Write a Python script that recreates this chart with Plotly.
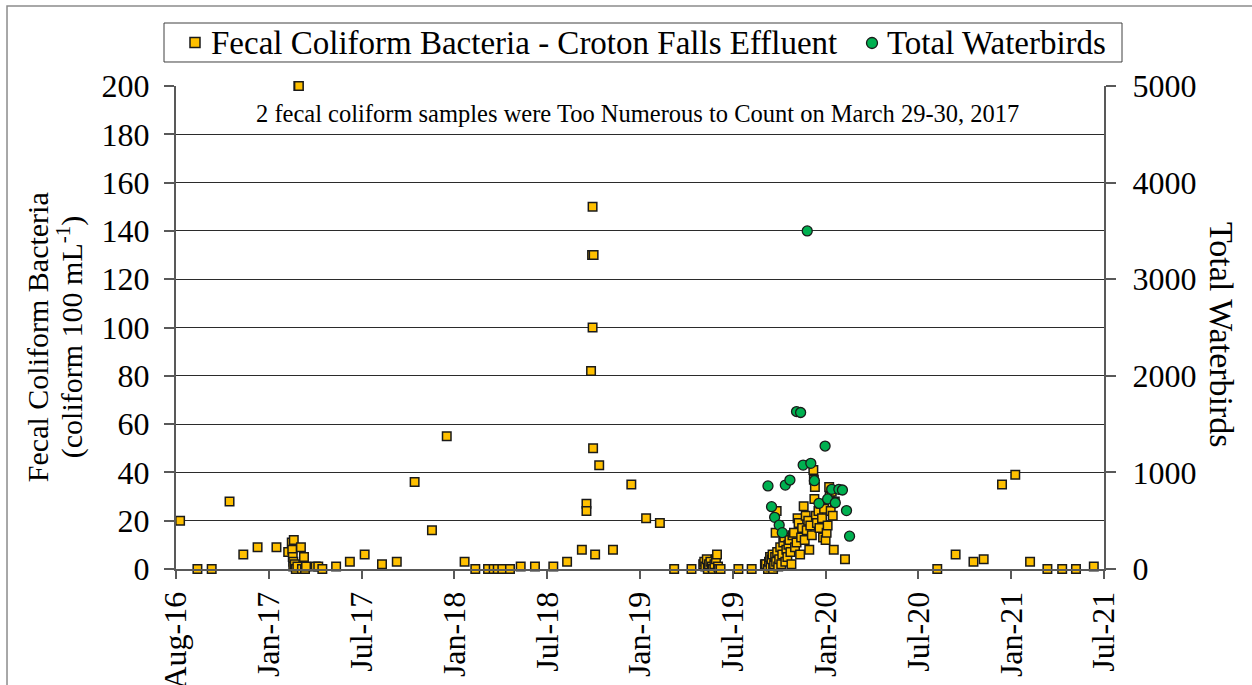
import plotly.graph_objects as go

# Fecal coliform samples, Croton Falls effluent (coliform per 100 mL)
fecal_dates = [
    "2016-08-09", "2016-09-12", "2016-10-10", "2016-11-14", "2016-12-11",
    "2017-01-08", "2017-02-14", "2017-03-09", "2017-03-16", "2017-03-17",
    "2017-03-18", "2017-03-19", "2017-03-19", "2017-03-20", "2017-03-22",
    "2017-03-24", "2017-03-27", "2017-03-29", "2017-03-30", "2017-04-03",
    "2017-04-05", "2017-04-09", "2017-04-11", "2017-04-13",
    "2017-05-02", "2017-05-07", "2017-05-15", "2017-06-11", "2017-07-08",
    "2017-08-06", "2017-09-09", "2017-10-08", "2017-11-12", "2017-12-16",
    "2018-01-14", "2018-02-18", "2018-03-11", "2018-04-05", "2018-04-16",
    "2018-04-24", "2018-05-03", "2018-05-18", "2018-06-08", "2018-07-06",
    "2018-08-11", "2018-09-07", "2018-10-06", "2018-10-15", "2018-10-15",
    "2018-10-24", "2018-10-27", "2018-10-27", "2018-10-26", "2018-10-29",
    "2018-10-28", "2018-11-01", "2018-11-09", "2018-12-06",
    "2019-01-11", "2019-02-09", "2019-03-08", "2019-04-05", "2019-05-09",
    "2019-06-01", "2019-06-03", "2019-06-05", "2019-06-08", "2019-06-10",
    "2019-06-12", "2019-06-15", "2019-06-18", "2019-06-20", "2019-06-23",
    "2019-06-26", "2019-06-28", "2019-06-30", "2019-07-02", "2019-07-05",
    "2019-08-09", "2019-09-04", "2019-09-30",
    "2019-10-02", "2019-10-06", "2019-10-08", "2019-10-10", "2019-10-11",
    "2019-10-13", "2019-10-15", "2019-10-16", "2019-10-18", "2019-10-20",
    "2019-10-21", "2019-10-22", "2019-10-23", "2019-10-24", "2019-10-26",
    "2019-10-28", "2019-10-30", "2019-11-01", "2019-11-03", "2019-11-05",
    "2019-11-07", "2019-11-09", "2019-11-11", "2019-11-13", "2019-11-15",
    "2019-11-17", "2019-11-19", "2019-11-21", "2019-11-23", "2019-11-26",
    "2019-11-28", "2019-12-01", "2019-12-03", "2019-12-05", "2019-12-08",
    "2019-12-10", "2019-12-12", "2019-12-15", "2019-12-17", "2019-12-19",
    "2019-12-21", "2019-12-24", "2019-12-26", "2019-12-28", "2019-12-31",
    "2020-01-03", "2020-01-04", "2020-01-05", "2020-01-06", "2020-01-08",
    "2020-01-10", "2020-01-13", "2020-01-15", "2020-01-17", "2020-01-20",
    "2020-01-22", "2020-01-24", "2020-01-27", "2020-01-29", "2020-01-31",
    "2020-02-03", "2020-02-04", "2020-02-06", "2020-02-08", "2020-02-10",
    "2020-02-12", "2020-02-14", "2020-03-05",
    "2020-09-02", "2020-10-08", "2020-11-12", "2020-12-02", "2021-01-07",
    "2021-02-02", "2021-03-03", "2021-04-06", "2021-05-05", "2021-06-01",
    "2021-07-06",
]
fecal_values = [
    20, 0, 0, 28, 6,
    9, 9, 7, 11, 8,
    5, 3, 1, 12, 2,
    0, 1, 200, 200, 9,
    0, 5, 0, 1,
    1, 1, 0, 1, 3,
    6, 2, 3, 36, 16,
    55, 3, 0, 0, 0,
    0, 0, 0, 1, 1,
    1, 3, 8, 27, 24,
    82, 150, 100, 130, 130,
    50, 6, 43, 8,
    35, 21, 19, 0, 0,
    2, 3, 1, 4, 0,
    2, 3, 1, 0, 2,
    4, 6, 1, 0, 0,
    0, 0, 2,
    2, 0, 3, 5, 1,
    4, 6, 0, 2, 5,
    15, 3, 24, 7, 1,
    4, 9, 2, 6, 11,
    13, 3, 8, 5, 10,
    12, 7, 2, 14, 15,
    9, 11, 21, 19, 6,
    13, 17, 26, 12, 22,
    16, 20, 8, 18, 14,
    41, 37, 29, 34, 22,
    19, 24, 17, 27, 21,
    13, 25, 12, 15, 18,
    34, 30, 24, 32, 22,
    8, 28, 4,
    0, 6, 3, 4, 35,
    39, 3, 0, 0, 0,
    1,
]

# Total waterbird counts
bird_dates = [
    "2019-10-06", "2019-10-13", "2019-10-19", "2019-10-28", "2019-11-03",
    "2019-11-09", "2019-11-18", "2019-12-01", "2019-12-09", "2019-12-14",
    "2019-12-22", "2019-12-29", "2020-01-05", "2020-01-14", "2020-01-26",
    "2020-01-31", "2020-02-08", "2020-02-15", "2020-02-22", "2020-02-29",
    "2020-03-08", "2020-03-14",
]
bird_counts = [
    860, 645, 535, 455, 376,
    869, 921, 1630, 1620, 1076,
    3500, 1094, 914, 680, 1273,
    725, 825, 686, 825, 818,
    605, 340,
]

# Date axis: ticks every 182 days from Aug 2016
x_range = ["2016-08-01", "2021-07-26"]
x_ticks = [
    "2016-08-01", "2017-01-30", "2017-07-31", "2018-01-29", "2018-07-30",
    "2019-01-28", "2019-07-29", "2020-01-27", "2020-07-27", "2021-01-25",
    "2021-07-26",
]

FECAL_NAME = "Fecal Coliform Bacteria - Croton Falls Effluent"
BIRD_NAME = "Total Waterbirds"

SERIF = "Liberation Serif, Times New Roman, serif"
AXIS_GREY = "#595959"
GOLD = "#FFC000"
GREEN = "#00B050"
EDGE = "#1a1a1a"

fig = go.Figure()
fig.add_trace(go.Scatter(
    x=fecal_dates, y=fecal_values, mode="markers", name=FECAL_NAME,
    marker=dict(symbol="square", size=8.5, color=GOLD,
                line=dict(color=EDGE, width=1.5)),
    cliponaxis=False,
))
fig.add_trace(go.Scatter(
    x=bird_dates, y=bird_counts, mode="markers", yaxis="y2", name=BIRD_NAME,
    marker=dict(symbol="circle", size=10, color=GREEN,
                line=dict(color=EDGE, width=1.3)),
    cliponaxis=False,
))

tick_font = dict(family=SERIF, size=32, color="black")
legend_font = dict(family=SERIF, size=33, color="black")

# Legend box drawn as layout shapes + annotations (paper coordinates)
legend_shapes = [
    dict(type="rect", xref="paper", yref="paper",
         x0=-0.01293, x1=1.01940, y0=1.04969, y1=1.13043,
         line=dict(color="#404040", width=1), fillcolor="white", layer="above"),
    dict(type="rect", xref="paper", yref="paper",
         x0=0.01509, x1=0.02586, y0=1.07971, y1=1.10041,
         line=dict(color=EDGE, width=1.5), fillcolor=GOLD, layer="above"),
    dict(type="circle", xref="paper", yref="paper",
         x0=0.74407, x1=0.75593, y0=1.07764, y1=1.10041,
         line=dict(color=EDGE, width=1.3), fillcolor=GREEN, layer="above"),
]

fig.update_layout(
    width=1252, height=685,
    margin=dict(l=176, r=148, t=86, b=116),
    paper_bgcolor="white", plot_bgcolor="white",
    font=dict(family=SERIF, size=32, color="black"),
    showlegend=False,
    xaxis=dict(
        type="date", range=x_range, tickvals=x_ticks, tickformat="%b-%y",
        tickangle=-90, ticks="outside", ticklen=8, tickwidth=1.5,
        tickcolor=AXIS_GREY, showline=True, linecolor=AXIS_GREY,
        linewidth=2, showgrid=False, zeroline=False, automargin=False,
        tickfont=tick_font,
    ),
    yaxis=dict(
        range=[0, 200], tick0=0, dtick=20, ticks="outside", ticklen=10,
        tickwidth=1.5, tickcolor=AXIS_GREY, showline=True,
        linecolor=AXIS_GREY, linewidth=2, showgrid=True,
        gridcolor="#2b2b2b", gridwidth=1, zeroline=False, automargin=False,
        ticklabelstandoff=8, tickfont=tick_font,
    ),
    yaxis2=dict(
        range=[0, 5000], tick0=0, dtick=1000, overlaying="y", side="right",
        ticks="outside", ticklen=10, tickwidth=1.5, tickcolor=AXIS_GREY,
        showline=True, linecolor=AXIS_GREY, linewidth=2, showgrid=False,
        zeroline=False, automargin=False, ticklabelstandoff=10,
        tickfont=tick_font,
    ),
    shapes=[
        dict(type="rect", xref="paper", yref="paper",
             x0=-0.1821, x1=1.3, y0=-0.5, y1=1.1656,
             line=dict(color="#8c8c8c", width=1.5), layer="below"),
    ] + legend_shapes,
    annotations=[
        dict(text=FECAL_NAME, xref="paper", yref="paper",
             x=0.0355, y=1.0890, xanchor="left", yanchor="middle",
             showarrow=False, font=legend_font),
        dict(text=BIRD_NAME, xref="paper", yref="paper",
             x=0.7640, y=1.0890, xanchor="left", yanchor="middle",
             showarrow=False, font=legend_font),
        dict(text="2 fecal coliform samples were Too Numerous to Count on March 29-30, 2017",
             xref="paper", yref="paper", x=0.4968, y=0.944,
             xanchor="center", yanchor="middle", showarrow=False,
             font=dict(family=SERIF, size=24.5, color="black")),
        dict(text="Fecal Coliform Bacteria", xref="paper", yref="paper",
             x=-0.1498, y=0.48, xanchor="center", yanchor="middle",
             textangle=-90, showarrow=False,
             font=dict(family=SERIF, size=30, color="black")),
        dict(text="(coliform 100 mL<sup>-1</sup>)", xref="paper", yref="paper",
             x=-0.1142, y=0.48, xanchor="center", yanchor="middle",
             textangle=-90, showarrow=False,
             font=dict(family=SERIF, size=30, color="black")),
        dict(text=BIRD_NAME, xref="paper", yref="paper",
             x=1.1261, y=0.4845, xanchor="center", yanchor="middle",
             textangle=90, showarrow=False,
             font=dict(family=SERIF, size=34, color="black")),
    ],
)

fig.write_html("out.html")
